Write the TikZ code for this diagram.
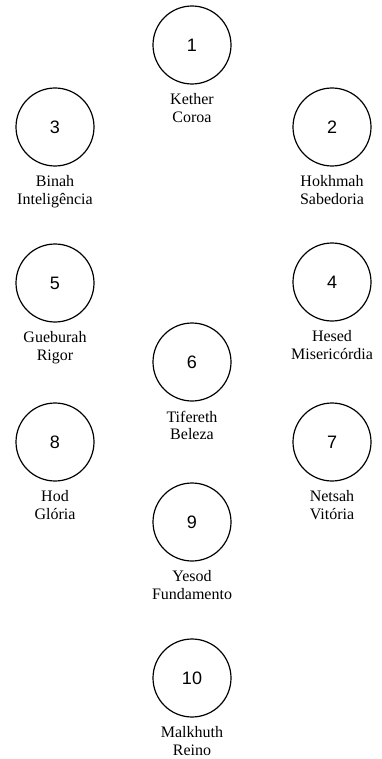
\documentclass[tikz,border=0pt]{standalone}
\usepackage{fontspec}
\setmainfont{Liberation Serif}
\newfontfamily\numfont{Liberation Sans}
\usetikzlibrary{positioning}
\tikzset{
  sefira/.style={
    draw=black, line width=1.2pt, circle,
    minimum size=78pt, inner sep=0pt,
    font=\numfont\fontsize{18}{18}\selectfont,
  },
  nome/.style={
    align=center, inner sep=0pt,
    font=\fontsize{16}{17.5}\selectfont,
  },
}

\begin{document}
\begin{tikzpicture}[x=1pt, y=1pt, node distance=9pt]

\useasboundingbox (0,0) rectangle (381,-759);

% coluna do meio
\node[sefira] (s1) at (192,-45) {1};
\node[nome, below=of s1] (n1) {Kether\\Coroa};
\node[sefira] (s6) at (192,-362) {6};
\node[nome, below=of s6] (n6) {Tifereth\\Beleza};
\node[sefira] (s9) at (192,-522) {9};
\node[nome, below=of s9] (n9) {Yesod\\Fundamento};
\node[sefira] (s10) at (192,-678) {10};
\node[nome, below=of s10] (n10) {Malkhuth\\Reino};

% coluna da esquerda
\node[sefira] (s3) at (55,-127) {3};
\node[nome, below=of s3] (n3) {Binah\\Inteligência};
\node[sefira] (s5) at (55,-283) {5};
\node[nome, below=of s5] (n5) {Gueburah\\Rigor};
\node[sefira] (s8) at (55,-442) {8};
\node[nome, below=of s8] (n8) {Hod\\Glória};

% coluna da direita
\node[sefira] (s2) at (332,-127) {2};
\node[nome, below=of s2] (n2) {Hokhmah\\Sabedoria};
\node[sefira] (s4) at (332,-282) {4};
\node[nome, below=of s4] (n4) {Hesed\\Misericórdia};
\node[sefira] (s7) at (332,-442) {7};
\node[nome, below=of s7] (n7) {Netsah\\Vitória};

\end{tikzpicture}
\end{document}
